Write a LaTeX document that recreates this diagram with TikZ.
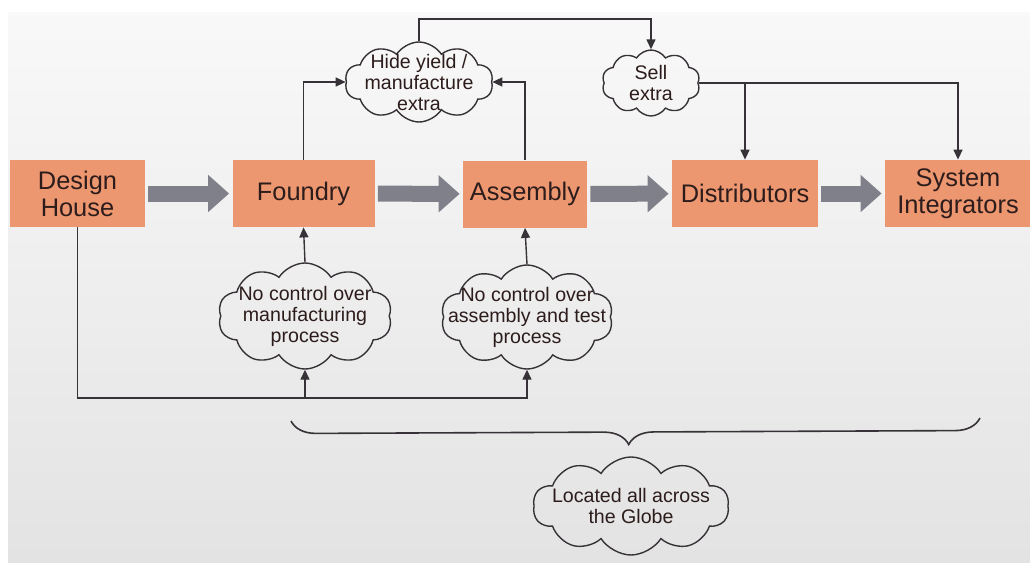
\documentclass[tikz,border=0pt]{standalone}
\usepackage{fontspec}
\setmainfont{Liberation Sans}
\usetikzlibrary{arrows.meta,shapes.symbols,decorations.pathreplacing}

\definecolor{boxfill}{RGB}{236,151,112}
\definecolor{pipe}{RGB}{128,128,138}
\definecolor{ink}{RGB}{55,50,55}
\definecolor{txt}{RGB}{45,28,28}

\tikzset{
  box/.style={rectangle,fill=boxfill,text=txt,align=center,
    minimum width=71pt,minimum height=33.5pt,inner sep=1pt,
    font=\fontsize{12.7}{13.5}\selectfont},
  cloudy/.style={cloud,cloud puffs=10,cloud puff arc=115,cloud ignores aspect,
    draw=ink,line width=0.7pt,text=txt,align=center,
    inner xsep=-12pt,inner ysep=-7pt,font=\fontsize{9.8}{10.5}\selectfont},
  bigarrow/.style={draw=pipe,line width=8pt,
    -{Triangle[length=10.5pt,width=18pt]},shorten <=1.5pt,shorten >=1.5pt},
  link/.style={draw=ink,line width=0.7pt,-{Triangle[length=5pt,width=4.5pt]}}
}

\begin{document}
\begin{tikzpicture}[x=0.5pt,y=-0.5pt]
      \useasboundingbox (0,0) rectangle (1030,563);
      \fill[white] (0,0) rectangle (1030,563);
      \shade[top color=gray!5,bottom color=gray!22] (8,12) rectangle (1030,563);

      % the chain
      \node [box,minimum width=67.5pt] (dh) at (77.5,193.5) {Design\\House};
      \node [box] (fd) at (303.5,193.5) {Foundry};
      \node [box,minimum width=62pt] (as) at (525,194) {Assembly};
      \node [box,minimum width=73pt] (ds) at (745,193.5) {Distributors};
      \node [box,minimum width=73pt] (si) at (958,193.5) {System\\Integrators};

      \foreach \from/\to in {dh/fd,fd/as,as/ds,ds/si}
        \draw [bigarrow] (\from) -- (\to);

      % clouds
      \node [cloudy,minimum width=74pt,minimum height=40pt] (hide) at (419,82) {Hide yield /\\manufacture\\extra};
      \node [cloudy,minimum width=49pt,minimum height=33pt] (sell) at (651,83) {Sell\\extra};
      \node [cloudy,minimum width=87pt,minimum height=53pt] (nc1) at (305,316) {No control over\\manufacturing\\process};
      \node [cloudy,minimum width=86pt,minimum height=52pt] (nc2) at (527,317) {No control over\\assembly and test\\process};
      \node [cloudy,minimum width=98pt,minimum height=49pt] (glob) at (631,506) {Located all across\\the Globe};

      \coordinate (top) at (419,19);
      \coordinate (base) at (0,398);
      \coordinate (bl) at (291,421);
      \coordinate (br) at (980,418);

      \draw [link] (fd.north) |- (hide.west);
      \draw [link] (as.north) |- (hide.east);
      \draw [link] (hide.north) -- (top) -| (sell.north);
      \draw [link] (sell.east) -| (si.north);
      \draw [link] (ds.north |- sell.east) -- (ds.north);

      \draw [link] (nc1.north) -- (fd.south);
      \draw [link] (nc2.north) -- (as.south);
      \draw [link] (dh.south) |- (nc2.south |- base) -- (nc2.south);
      \draw [link] (nc1.south |- base) -- (nc1.south);

      \draw [ink,line width=0.8pt,decorate,
        decoration={brace,mirror,amplitude=12.5pt,aspect=0.49}] (bl) -- (br);
    \end{tikzpicture}
\end{document}
